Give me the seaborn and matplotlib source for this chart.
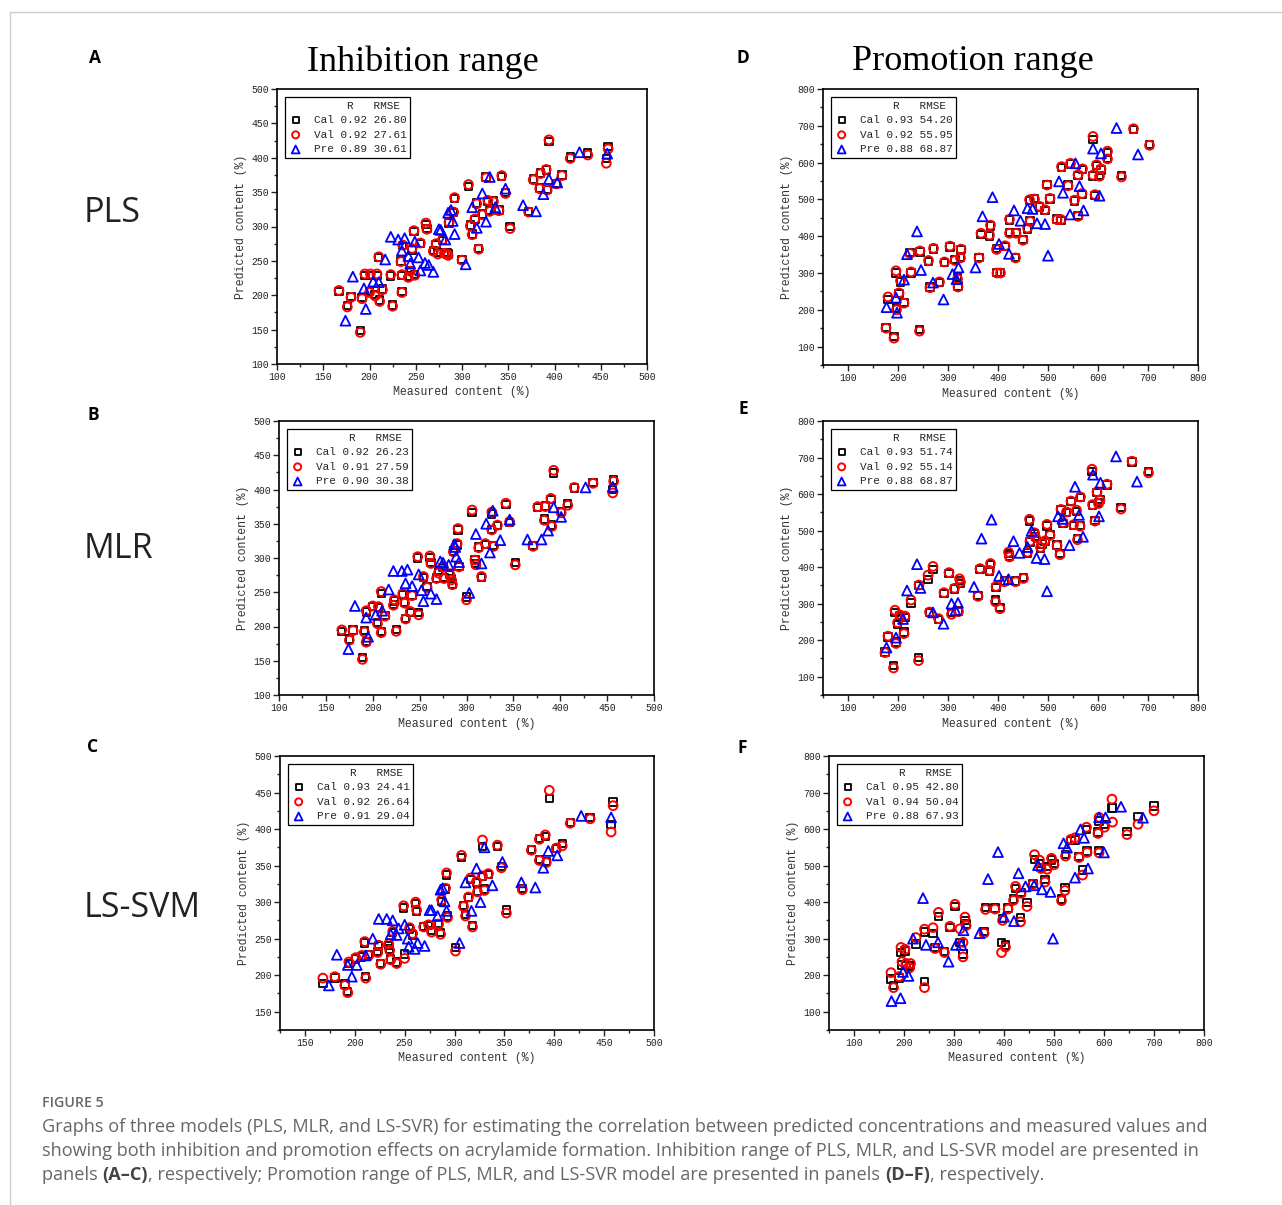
import numpy as np
import pandas as pd
import matplotlib
matplotlib.use("Agg")
import matplotlib.pyplot as plt
import seaborn as sns
from matplotlib.ticker import MultipleLocator

# ---- data ----
# panel A (PLS, inhibition)
a_val_x = [167,176,180,190,192,195,201,208,200,206, 210,211,214,223,225,235,234,235,236,242,
           244,246,248,249,255,261,262,269,272,274, 279,281,284,285,286,291,292,300,307,309,
           311,314,316,318,322,326,328,330,334,340, 343,347,352,372,377,385,384,391,392,394,
           402,408,417,436,456,458]
a_val_y = [207,183,197,146,195,231,231,231,204,199, 256,191,208,230,184,204,249,230,273,226,
           235,268,294,229,276,305,296,264,275,260, 281,261,260,258,306,321,342,251,361,301,
           288,311,333,267,317,371,338,322,336,323, 374,348,297,321,368,377,355,383,353,426,
           362,374,399,404,392,413]
a_cal_y = [205,185,198,149,197,229,229,229,205,201, 255,193,209,228,186,205,250,229,272,228,
           236,266,293,230,275,303,297,265,274,262, 280,262,262,260,305,320,341,252,358,302,
           289,310,334,268,318,372,336,323,337,324, 373,349,300,322,369,378,356,382,354,424,
           363,375,401,407,399,416]
a_pre_x = [174,182,194,196,204,210,217,223,231,235, 238,242,244,249,253,255,260,264,269,275,
           277,282,285,288,290,292,304,311,316,322, 326,330,336,347,366,380,388,394,403,427, 457]
a_pre_y = [163,227,210,180,220,219,252,285,281,265, 283,257,246,278,255,236,247,244,234,296,
           295,281,320,324,308,289,245,328,298,348, 307,372,328,355,331,322,347,369,364,408, 406]

# panel B (MLR, inhibition)
b_val_x = [167,175,179,189,191,193,193,200,205,206, 209,209,213,222,223,225,232,234,235,240,
           242,248,249,254,258,261,262,268,270,275, 276,282,284,285,286,290,291,292,300,306,
           309,310,313,316,320,327,327,329,333,342, 346,352,371,376,384,383,390,391,393,401,
           408,415,435,456,457]
b_val_y = [195,180,194,152,192,177,223,230,204,229, 251,191,215,231,239,193,248,234,211,222,
           245,302,217,273,257,303,292,270,278,287, 270,277,268,261,309,321,343,287,239,370,
           297,290,315,273,321,367,341,317,348,380, 353,290,317,375,375,355,387,346,428,366,
           377,403,409,395,412]
b_cal_y = [193,182,195,155,194,178,221,229,206,228, 248,193,216,232,237,196,247,236,212,220,
           246,300,220,272,258,301,293,271,280,286, 272,276,270,262,310,319,341,288,243,366,
           298,292,316,272,320,364,342,318,347,378, 352,293,318,374,376,357,385,348,424,368,
           380,402,410,400,414]
b_pre_x = [174,181,193,195,203,210,217,222,231,235, 237,242,249,252,254,262,268,272,275,281,
           287,288,289,292,303,310,316,321,325,328, 336,346,365,380,387,393,401,427,456]
b_pre_y = [167,230,213,185,217,223,254,281,281,263, 283,259,276,253,237,248,240,295,293,290,
           320,316,302,294,249,335,292,350,308,369, 326,356,327,327,340,374,360,403,404]

# panel C (LS-SVM, inhibition)
c_val_x = [168,180,190,193,194,201,207,210,211,214, 224,223,226,234,235,236,242,238,250,255,
           258,249,261,262,269,274,277,284,286,287, 291,292,293,301,307,309,311,314,316,318,
           322,323,328,328,330,334,343,347,352,368, 377,385,385,391,392,395,402,408,416,436,
           457,459]
c_val_y = [196,198,186,176,218,224,227,246,196,227, 241,231,215,243,234,221,216,260,223,265,
           257,295,300,289,266,269,259,270,256,303, 319,340,279,233,364,294,281,307,333,266,
           328,314,385,336,316,339,378,347,285,317, 371,386,357,392,354,453,374,377,408,414,
           396,432]
c_cal_y = [189,196,188,178,216,222,225,244,198,228, 240,232,216,241,236,222,218,258,229,263,
           255,292,298,287,267,268,261,271,258,301, 318,337,281,238,361,295,283,306,331,268,
           327,315,376,335,318,338,376,349,289,319, 372,387,358,390,356,442,373,380,409,416,
           406,437]
c_pre_x = [174,182,193,197,202,211,218,224,232,236, 238,242,244,250,253,254,260,263,270,275,
           277,283,286,288,290,292,305,311,317,322, 326,330,338,348,367,381,389,394,403,427, 457]
c_pre_y = [186,228,214,198,214,227,250,277,277,256, 275,255,264,269,250,239,236,244,240,289,
           289,281,317,319,301,288,244,327,288,346, 300,375,323,355,327,320,347,370,364,418, 416]

# panel D (PLS, promotion)
d_val_x = [176,192,180,196,197,202,205,212,224,226, 244,243,261,264,271,283,293,304,314,319,
           320,326,325,362,366,383,385,397,398,405, 414,423,423,436,435,450,459,463,464,473,
           483,494,498,504,518,527,526,540,545,553, 560,560,569,568,590,590,594,597,603,606,
           619,619,647,671,703]
d_val_y = [150,123,235,306,200,246,279,218,353,303, 360,142,334,260,367,276,330,373,334,284,
           262,365,341,341,408,403,430,364,300,300, 374,408,446,408,341,389,422,499,440,501,
           481,472,539,503,445,589,445,537,598,498, 567,454,583,516,671,566,513,594,563,583,
           610,631,561,692,647]
d_cal_y = [152,128,228,300,205,244,276,220,355,300, 357,147,332,262,365,275,328,371,336,287,
           265,363,343,343,405,401,428,366,302,302, 372,410,444,410,343,391,420,497,442,503,
           479,470,540,501,447,587,443,539,596,496, 565,457,581,514,663,564,511,592,565,580,
           612,628,565,690,650]
d_pre_x = [177,196,198,212,218,238,246,270,291,309, 317,321,355,369,389,402,422,432,445,459,
           469,478,494,500,522,530,544,555,563,571, 590,603,606,637,680]
d_pre_y = [207,233,192,282,351,413,308,274,228,297, 283,315,315,454,506,379,352,470,442,476,
           474,435,433,347,549,518,459,598,536,470, 638,510,625,694,622]

# panel E (MLR, promotion)
e_val_x = [174,180,191,194,196,199,204,212,214,226, 242,241,260,263,270,281,292,302,307,313,
           321,323,325,360,364,383,385,395,396,404, 413,421,423,435,451,459,463,464,473,475,
           485,488,494,498,504,518,524,526,530,537, 546,551,557,559,565,564,588,589,594,598,
           601,604,618,646,668,701]
e_val_y = [166,211,124,282,191,248,269,218,266,310, 351,144,378,277,402,259,330,385,271,342,
           278,368,359,320,396,391,410,305,347,286, 360,441,428,360,369,441,531,471,494,481,
           454,465,472,517,487,459,434,558,522,551, 581,516,556,475,592,512,668,571,526,606,
           574,583,627,559,690,658]
e_cal_y = [168,209,130,276,195,243,266,222,262,302, 349,152,366,275,393,257,328,383,276,340,
           280,364,356,323,393,389,408,310,345,290, 362,437,430,362,371,439,526,469,492,483,
           452,463,470,513,489,461,437,556,520,549, 579,514,553,479,590,514,661,569,528,604,
           577,585,625,564,688,661]
e_pre_x = [177,196,210,218,238,245,270,291,307,315, 320,352,367,387,402,421,431,443,459,467,
           477,493,498,520,529,543,554,562,570,590, 602,605,636,678]
e_pre_y = [180,207,258,336,408,343,276,245,300,282, 302,346,478,530,376,367,471,439,455,499,
           425,422,334,539,532,460,620,543,483,653, 539,631,703,634]

# panel F (LS-SVM, promotion)
f_val_x = [174,179,190,194,196,202,204,211,213,224, 241,241,258,262,269,281,292,302,312,318,
           318,322,324,360,363,382,395,397,403,408, 419,423,433,434,446,458,461,471,474,482,
           486,495,500,515,522,523,534,542,550,557, 565,566,588,590,590,601,617,616,646,668,
           700]
f_val_y = [207,166,196,276,237,271,232,220,232,303, 166,326,330,273,372,262,334,394,327,290,
           250,359,336,315,380,381,262,350,277,381, 405,443,346,424,388,449,530,515,492,455,
           490,520,502,404,432,526,572,576,522,474, 605,536,588,535,632,605,619,682,585,613,
           650]
f_cal_y = [190,172,192,262,228,266,226,225,226,285, 183,318,314,275,360,265,331,388,290,258,
           258,349,340,320,385,384,289,355,283,384, 409,438,358,426,399,451,516,505,495,462,
           497,515,505,409,440,530,568,570,525,488, 598,540,592,541,622,612,658,658,594,635,
           663]
f_pre_x = [175,193,198,209,218,238,244,268,289,304, 315,319,351,368,388,400,420,429,443,460,
           468,476,493,498,519,526,542,553,560,568, 590,600,603,634,678]
f_pre_y = [129,137,209,198,300,411,283,290,237,283, 283,323,315,463,537,360,348,479,443,446,
           501,435,428,300,561,549,467,599,576,492, 632,536,632,661,631]

# legend stats: R, RMSE for Cal / Val / Pre
a_stats = [("0.92", "26.80"), ("0.92", "27.61"), ("0.89", "30.61")]
b_stats = [("0.92", "26.23"), ("0.91", "27.59"), ("0.90", "30.38")]
c_stats = [("0.93", "24.41"), ("0.92", "26.64"), ("0.91", "29.04")]
d_stats = [("0.93", "54.20"), ("0.92", "55.95"), ("0.88", "68.87")]
e_stats = [("0.93", "51.74"), ("0.92", "55.14"), ("0.88", "68.87")]
f_stats = [("0.95", "42.80"), ("0.94", "50.04"), ("0.88", "67.93")]

row_names = ["PLS", "MLR", "LS-SVM"]
col_titles = ["Inhibition range", "Promotion range"]

sns.set_style("ticks")
plt.rcParams["font.family"] = ["Liberation Mono", "DejaVu Sans"]

W, H = 1282, 1205
fig = plt.figure(figsize=(W / 100, H / 100), dpi=100)


def box(l, r, t, b):
    return [l / W, 1 - b / H, (r - l) / W, (b - t) / H]


mono = "Liberation Mono"


def draw_panel(ax, vx, cal_y, val_y, px, py, stats, lo, major, minor):
    sns.scatterplot(x=vx, y=cal_y, ax=ax, marker="s", s=28, facecolor="none",
                    edgecolor="black", linewidth=1.3, label=f"Cal {stats[0][0]} {stats[0][1]}")
    sns.scatterplot(x=vx, y=val_y, ax=ax, marker="o", s=40, facecolor="none",
                    edgecolor="#ff0000", linewidth=1.4, label=f"Val {stats[1][0]} {stats[1][1]}")
    sns.scatterplot(x=px, y=py, ax=ax, marker="^", s=50, facecolor="none",
                    edgecolor="#0000ff", linewidth=1.3, label=f"Pre {stats[2][0]} {stats[2][1]}")
    hi = 800 if major == 100 else 500
    ax.set_xlim(lo, hi)
    ax.set_ylim(lo, hi)
    ax.xaxis.set_major_locator(MultipleLocator(major))
    ax.yaxis.set_major_locator(MultipleLocator(major))
    ax.xaxis.set_minor_locator(MultipleLocator(minor))
    ax.yaxis.set_minor_locator(MultipleLocator(minor))
    ax.tick_params(which="major", direction="out", length=4, width=1, labelsize=7,
                   colors="#222222", pad=2)
    ax.tick_params(which="minor", direction="out", length=2, width=1)
    for lab in ax.get_xticklabels() + ax.get_yticklabels():
        lab.set_fontfamily(mono)
    for sp in ax.spines.values():
        sp.set_visible(True)
        sp.set_linewidth(1.2)
        sp.set_color("black")
    ax.set_xlabel("Measured content (%)", fontsize=8.3, family=mono, color="#333333", labelpad=3)
    ax.set_ylabel("Predicted content (%)", fontsize=8.3, family=mono, color="#333333", labelpad=3)
    leg = ax.legend(loc="upper left", title="R   RMSE ", alignment="right",
                    prop={"family": mono, "size": 7.9}, title_fontproperties={"family": mono, "size": 7.9},
                    frameon=True, fancybox=False, edgecolor="black", framealpha=1,
                    borderpad=0.3, labelspacing=0.42, handlelength=1.3, handletextpad=1.0,
                    borderaxespad=0.75, markerscale=0.8)
    leg.get_frame().set_linewidth(0.9)
    leg.get_title().set_color("#222222")


ax_a = fig.add_axes(box(277, 647, 89, 364))
draw_panel(ax_a, a_val_x, a_cal_y, a_val_y, a_pre_x, a_pre_y, a_stats, 100, 50, 25)
ax_b = fig.add_axes(box(279, 654, 421, 695))
draw_panel(ax_b, b_val_x, b_cal_y, b_val_y, b_pre_x, b_pre_y, b_stats, 100, 50, 25)
ax_c = fig.add_axes(box(280, 654, 756, 1030))
draw_panel(ax_c, c_val_x, c_cal_y, c_val_y, c_pre_x, c_pre_y, c_stats, 125, 50, 25)
ax_d = fig.add_axes(box(823, 1198, 89, 365))
draw_panel(ax_d, d_val_x, d_cal_y, d_val_y, d_pre_x, d_pre_y, d_stats, 50, 100, 50)
ax_e = fig.add_axes(box(823, 1198, 421, 695))
draw_panel(ax_e, e_val_x, e_cal_y, e_val_y, e_pre_x, e_pre_y, e_stats, 50, 100, 50)
ax_f = fig.add_axes(box(829, 1204, 756, 1030))
draw_panel(ax_f, f_val_x, f_cal_y, f_val_y, f_pre_x, f_pre_y, f_stats, 50, 100, 50)

# outer frame of the figure page
fig.add_artist(plt.Line2D([10 / W, 1], [1 - 12 / H, 1 - 12 / H], color="#cccccc", lw=1))
fig.add_artist(plt.Line2D([10 / W, 10 / W], [0, 1 - 12 / H], color="#cccccc", lw=1))

# column titles
fig.text(423 / W, 1 - 62 / H, col_titles[0], family="Liberation Serif", fontsize=26,
         ha="center", va="center", color="black")
fig.text(973 / W, 1 - 62 / H, col_titles[1], family="Liberation Serif", fontsize=26,
         ha="center", va="center", color="black")

# panel letters
for letter, (lx, ly) in zip("ABCDEF", [(95, 58), (93, 415), (93, 747), (743, 58), (743, 409), (742, 748)]):
    fig.text(lx / W, 1 - ly / H, letter, family="Open Sans", fontsize=12.5, weight="bold",
             ha="center", va="center", color="black")

# row model names
for name, ry in zip(row_names, [213, 549, 908]):
    fig.text(84 / W, 1 - ry / H, name, family="Open Sans", fontsize=24.5,
             ha="left", va="center", color="#222222")

# caption
cap_col = "#666666"
cap_size = 13.1
fig.text(42 / W, 1 - 1103 / H, "FIGURE 5", family="Open Sans", fontsize=10.2, weight="semibold",
         ha="left", va="center", color=cap_col)
fig.text(42 / W, 1 - 1127 / H,
         "Graphs of three models (PLS, MLR, and LS-SVR) for estimating the correlation between "
         "predicted concentrations and measured values and",
         family="Open Sans", fontsize=cap_size, ha="left", va="center", color=cap_col)
fig.text(42 / W, 1 - 1151 / H,
         "showing both inhibition and promotion effects on acrylamide formation. Inhibition range "
         "of PLS, MLR, and LS-SVR model are presented in",
         family="Open Sans", fontsize=cap_size, ha="left", va="center", color=cap_col)

renderer = fig.canvas.get_renderer()
pieces = [("panels ", "normal"), ("(A\u2013C)", "bold"),
          (", respectively; Promotion range of PLS, MLR, and LS-SVR model are presented in panels ", "normal"),
          ("(D\u2013F)", "bold"), (", respectively.", "normal")]
xpos = 42
for txt, wt in pieces:
    t = fig.text(xpos / W, 1 - 1175 / H, txt, family="Open Sans", fontsize=cap_size, weight=wt,
                 ha="left", va="center", color=cap_col if wt == "normal" else "#444444")
    bb = t.get_window_extent(renderer=renderer)
    xpos += bb.width

fig.savefig("out.png", dpi=100)
